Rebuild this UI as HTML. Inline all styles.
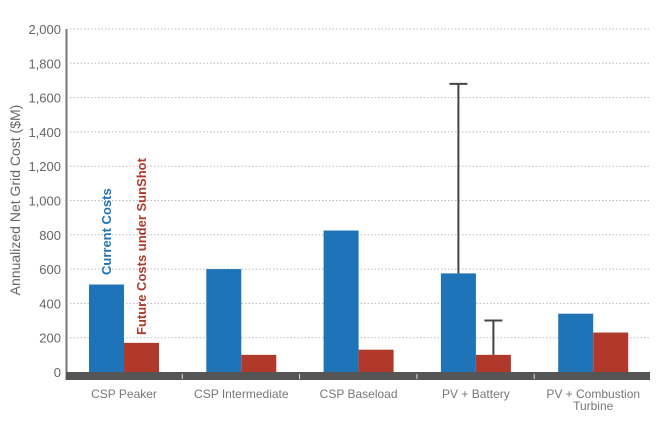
<!DOCTYPE html>
<html><head><meta charset="utf-8"><style>
body{margin:0;background:#fff;width:660px;height:419px;overflow:hidden;font-family:"Liberation Sans",sans-serif}
</style></head><body>
<svg id="chart" width="660" height="419" xmlns="http://www.w3.org/2000/svg"></svg>
<script>
const categories=["CSP Peaker","CSP Intermediate","CSP Baseload","PV + Battery","PV + Combustion Turbine"];
const currentCosts=[510,600,825,575,340];
const futureCosts=[170,100,130,100,230];
const currentErrTop=[null,null,null,1680,null];
const futureErrTop=[null,null,null,300,null];
const yTicks=[0,200,400,600,800,1000,1200,1400,1600,1800,2000];
const NS="http://www.w3.org/2000/svg";
const svg=document.getElementById('chart');
function y(v){return 372-v*343/2000;}
function x(i){return 89+i*117.3;}
const bw=35;
function mk(t,a,p){const e=document.createElementNS(NS,t);for(const k in a)e.setAttribute(k,a[k]);(p||svg).appendChild(e);return e;}
yTicks.forEach(v=>{
 if(v>0){const g=mk('line',{x1:70,x2:650,y1:y(v),y2:y(v),stroke:'#bbb','stroke-dasharray':'1.5,2','stroke-width':1});
 
 }
 const t=mk('text',{x:61,y:y(v)+5,'text-anchor':'end','font-size':13,fill:'#666'});
 t.textContent=v.toLocaleString('en-US');
 
 
});
const ax=mk('line',{x1:66.5,x2:66.5,y1:29,y2:380,stroke:'#777','stroke-width':2});


const yt=mk('text',{transform:'translate(20,200) rotate(-90)','text-anchor':'middle','font-size':14,fill:'#666'});
yt.textContent='Annualized Net Grid Cost ($M)';


categories.forEach((c,i)=>{
 const b=mk('rect',{x:x(i),y:y(currentCosts[i]),width:bw,height:372-y(currentCosts[i]),fill:'#1f73b7'});
 
 
 const r=mk('rect',{x:x(i)+bw,y:y(futureCosts[i]),width:bw,height:372-y(futureCosts[i]),fill:'#b0392c'});
 
 
 [[currentErrTop[i],currentCosts[i],x(i)+bw/2],[futureErrTop[i],futureCosts[i],x(i)+bw*1.5]].forEach(([t,v,cx])=>{
  if(t==null)return;
  const g=mk('g',{stroke:'#444','stroke-width':2});
  
  
  mk('line',{x1:cx,x2:cx,y1:y(t),y2:y(v)},g);
  mk('line',{x1:cx-9,x2:cx+9,y1:y(t),y2:y(t)},g);
 });
});
const base=mk('rect',{x:66,y:372,width:584,height:8,fill:'#555'});


categories.forEach((c,i)=>{
 if(i>0){const tk=mk('line',{x1:x(i)-24,x2:x(i)-24,y1:374,y2:379,stroke:'#ddd','stroke-width':1});
 
 }
 const cx=x(i)+bw;
 const lines=c==="PV + Combustion Turbine"?["PV + Combustion","Turbine"]:[c];
 lines.forEach((l,k)=>{
  const t=mk('text',{x:cx,y:398+k*12,'text-anchor':'middle','font-size':12,fill:'#777'});
  t.textContent=l;
  
  
 });
});
const l1=mk('text',{transform:'translate(111,275) rotate(-90)','font-size':13,'font-weight':'bold',fill:'#1f73b7'});
l1.textContent='Current Costs';


const l2=mk('text',{transform:'translate(146,335) rotate(-90)','font-size':13,'font-weight':'bold',fill:'#b0392c'});
l2.textContent='Future Costs under SunShot';


</script>
</body></html>
